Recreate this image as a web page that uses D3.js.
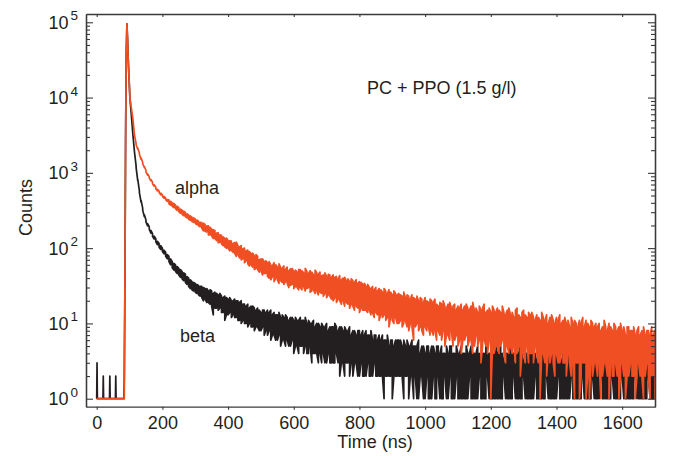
<!DOCTYPE html>
<html>
<head>
<meta charset="utf-8">
<script src="https://cdn.jsdelivr.net/npm/d3@7"></script>
<style>
  body { margin: 0; background: #fff; }
  text { font-family: "Liberation Sans", Arial, sans-serif; fill: #231f20; }
</style>
</head>
<body>
<svg id="chart" width="673" height="456"></svg>
<script>
// Head of both decays: pre-trigger baseline, rise and peak (time in ns, counts)
const headTime  = [0, 1, 2, 19, 20, 21, 39, 40, 41, 57, 58, 59, 83, 84, 86, 88, 90, 92, 94, 96, 98, 101, 105, 110, 115];
const alphaHead = [1, 1, 1, 1, 1, 1, 1, 1, 1, 1, 1, 1, 1, 1, 40, 3000, 40000, 95000, 60000, 32000, 20000, 10000, 7500, 5300, 3200];
const betaHead  = [1, 3, 1, 1, 2, 1, 1, 2, 1, 1, 2, 1, 1, 2, 40, 3000, 40000, 95000, 60000, 32000, 20000, 10000, 6200, 3300, 1900];

// Tail: highest and lowest count in each 5 ns bin from 120 ns (one line = 100 ns)
const tailStart = 120, tailStep = 5;
const alphaHigh = [
  2450, 2140, 1840, 1580, 1380, 1220, 1075, 970, 890, 815, 750, 695, 645, 605, 572, 540, 512, 488, 462, 442,
  435, 418, 400, 392, 372, 360, 345, 330, 318, 310, 298, 285, 276, 268, 258, 252, 244, 236, 228, 220,
  218, 214, 206, 196, 198, 190, 178, 176, 170, 158, 160, 150, 148, 141, 134, 136, 126, 125, 124, 115,
  118, 120, 108, 104, 108, 98, 100, 92, 94, 90, 84, 86, 78, 82, 78, 70, 72, 72, 66, 68,
  64, 66, 60, 58, 64, 60, 56, 62, 55, 54, 58, 52, 56, 50, 53, 54, 49, 51, 48, 52,
  52, 50, 47, 54, 49, 46, 50, 48, 44, 51, 47, 45, 48, 43, 44, 47, 42, 45, 44, 41,
  44, 41, 42, 39, 43, 38, 40, 41, 37, 39, 36, 39, 37, 35, 38, 34, 36, 35, 33, 34,
  31, 33, 30, 29, 31, 28, 30, 27, 29, 28, 26, 29, 27, 25, 28, 26, 24, 27, 25, 24,
  25, 24, 23, 26, 22, 24, 23, 21, 24, 22, 21, 23, 20, 22, 21, 19, 22, 20, 19, 21,
  20, 19, 21, 18, 17, 19, 18, 20, 17, 16, 18, 19, 16, 17, 18, 15, 17, 16, 18, 15,
  17, 18, 16, 15, 17, 19, 15, 16, 14, 17, 15, 16, 18, 14, 15, 16, 14, 17, 15, 14,
  16, 15, 14, 17, 14, 13, 15, 16, 13, 14, 12, 15, 16, 13, 12, 14, 15, 13, 12, 14,
  13, 14, 12, 11, 13, 12, 11, 14, 12, 11, 13, 10, 12, 13, 11, 10, 12, 11, 13, 10,
  11, 12, 10, 11, 9, 12, 10, 11, 10, 9, 11, 10, 12, 9, 11, 10, 9, 11, 10, 9,
  10, 9, 10, 8, 9, 11, 9, 8, 10, 9, 8, 10, 9, 8, 9, 10, 8, 9, 7, 9,
  9, 8, 8, 9, 7, 8, 9, 7, 8, 9, 7, 8, 8, 7, 9, 7, 8
];
const alphaLow = [
  2360, 2060, 1770, 1520, 1320, 1180, 1030, 930, 850, 785, 715, 665, 615, 575, 548, 512, 488, 462, 440, 418,
  388, 372, 360, 345, 335, 318, 305, 292, 282, 270, 262, 252, 242, 234, 226, 220, 214, 205, 198, 192,
  184, 170, 168, 164, 150, 150, 146, 134, 134, 126, 118, 120, 114, 108, 104, 100, 100, 92, 94, 88,
  86, 78, 82, 74, 70, 72, 64, 68, 62, 58, 60, 56, 52, 54, 52, 48, 50, 44, 46, 46,
  42, 40, 38, 42, 36, 40, 38, 34, 37, 35, 33, 36, 34, 30, 32, 33, 29, 31, 30, 28,
  30, 28, 31, 27, 29, 30, 26, 27, 28, 25, 27, 24, 26, 25, 23, 25, 22, 24, 23, 21,
  20, 22, 19, 21, 20, 18, 20, 17, 19, 18, 16, 18, 17, 15, 17, 16, 14, 16, 15, 15,
  15, 14, 15, 13, 14, 12, 14, 13, 11, 13, 12, 13, 11, 12, 9, 12, 11, 10, 12, 10,
  10, 11, 9, 10, 11, 9, 8, 10, 9, 6, 9, 10, 8, 9, 8, 7, 9, 8, 9, 7,
  8, 7, 8, 6, 8, 7, 6, 8, 5, 7, 7, 6, 8, 5, 6, 7, 5, 6, 4, 6,
  6, 7, 5, 6, 6, 4, 5, 7, 5, 6, 3, 5, 6, 5, 4, 6, 1, 5, 4, 5,
  5, 4, 5, 6, 4, 3, 5, 4, 5, 4, 5, 3, 4, 5, 2, 4, 4, 3, 5, 3,
  4, 4, 3, 5, 4, 3, 1, 4, 4, 3, 2, 4, 3, 4, 3, 2, 4, 3, 3, 4,
  3, 3, 2, 4, 3, 2, 3, 1, 3, 3, 1, 2, 3, 3, 1, 2, 1, 3, 2, 3,
  3, 2, 3, 1, 2, 3, 3, 2, 1, 3, 2, 2, 3, 2, 1, 2, 3, 2, 1, 2,
  2, 3, 2, 2, 1, 2, 3, 2, 2, 1, 2, 3, 2, 1, 2, 2, 1
];
const betaHigh = [
  1230, 820, 575, 432, 340, 278, 237, 212, 192, 172, 156, 144, 133, 123, 115, 108, 100, 94, 88, 82,
  78, 72, 66, 63, 60, 57, 54, 52, 49, 47, 45, 42, 40, 38, 36, 35, 34, 33, 32, 31,
  31, 30, 29, 29, 27, 28, 27, 25, 26, 25, 24, 25, 23, 22, 23, 22, 21, 22, 20, 20,
  21, 20, 20, 19, 20, 18, 18, 17, 18, 16, 17, 17, 16, 15, 16, 15, 14, 15, 15, 14,
  15, 14, 15, 13, 14, 13, 13, 14, 12, 13, 12, 13, 12, 11, 12, 12, 11, 12, 11, 11,
  12, 11, 11, 12, 10, 11, 10, 10, 11, 9, 10, 10, 9, 10, 9, 9, 10, 8, 9, 9,
  9, 10, 9, 8, 9, 9, 8, 9, 8, 8, 9, 7, 8, 8, 7, 8, 8, 7, 8, 7,
  8, 7, 7, 8, 6, 7, 7, 6, 7, 6, 7, 6, 6, 7, 5, 6, 6, 5, 6, 6,
  6, 6, 5, 6, 5, 6, 5, 5, 6, 5, 5, 5, 6, 4, 5, 5, 4, 5, 5, 4,
  5, 5, 4, 5, 5, 4, 5, 4, 4, 5, 4, 5, 5, 4, 4, 5, 4, 4, 5, 4,
  4, 5, 4, 4, 5, 4, 4, 4, 5, 4, 3, 4, 4, 5, 4, 4, 4, 3, 4, 5,
  4, 4, 5, 4, 3, 4, 4, 4, 5, 4, 4, 3, 4, 4, 5, 4, 3, 4, 4, 4,
  4, 5, 4, 4, 3, 4, 4, 5, 4, 4, 3, 4, 4, 4, 5, 3, 4, 4, 4, 3,
  4, 4, 3, 4, 4, 5, 4, 3, 4, 4, 4, 3, 4, 5, 4, 4, 3, 4, 4, 3,
  4, 3, 4, 4, 4, 3, 4, 5, 4, 3, 4, 4, 3, 4, 4, 4, 3, 4, 4, 4,
  4, 4, 3, 4, 4, 3, 4, 4, 4, 3, 4, 4, 3, 4, 4, 3, 4
];
const betaLow = [
  1170, 780, 545, 408, 320, 262, 223, 198, 178, 158, 144, 132, 121, 111, 103, 96, 90, 84, 78, 72,
  66, 60, 55, 51, 49, 46, 44, 41, 39, 37, 35, 33, 31, 29, 28, 27, 26, 25, 24, 23,
  22, 20, 21, 19, 19, 18, 17, 13, 16, 16, 15, 16, 14, 14, 11, 13, 13, 14, 12, 13,
  12, 12, 11, 11, 10, 11, 10, 10, 9, 10, 9, 9, 8, 9, 9, 8, 8, 9, 7, 8,
  7, 8, 6, 7, 7, 6, 6, 7, 5, 6, 6, 5, 6, 5, 5, 6, 4, 5, 5, 4,
  5, 5, 4, 5, 4, 4, 5, 3, 4, 4, 4, 3, 4, 3, 4, 3, 3, 4, 3, 3,
  3, 3, 4, 3, 2, 3, 3, 2, 3, 3, 2, 3, 2, 3, 3, 2, 2, 3, 2, 2,
  2, 3, 2, 2, 2, 3, 2, 2, 2, 2, 2, 1, 2, 2, 2, 2, 1, 2, 2, 2,
  2, 2, 2, 1, 2, 2, 1, 2, 2, 1, 2, 1, 1, 2, 2, 1, 1, 2, 1, 1,
  1, 2, 1, 1, 2, 1, 1, 1, 2, 1, 1, 2, 1, 1, 1, 2, 1, 1, 1, 1,
  1, 1, 1, 2, 1, 1, 1, 1, 1, 2, 1, 1, 1, 1, 2, 1, 1, 1, 1, 1,
  1, 1, 1, 1, 2, 1, 1, 1, 1, 1, 2, 1, 1, 1, 1, 1, 2, 1, 1, 1,
  1, 1, 1, 2, 1, 1, 1, 1, 1, 1, 2, 1, 1, 1, 1, 1, 1, 2, 1, 1,
  1, 1, 1, 1, 1, 2, 1, 1, 1, 1, 1, 1, 2, 1, 1, 1, 1, 1, 2, 1,
  1, 1, 1, 2, 1, 1, 1, 1, 1, 1, 2, 1, 1, 1, 1, 1, 2, 1, 1, 1,
  1, 1, 1, 1, 2, 1, 1, 1, 1, 1, 1, 1, 2, 1, 1, 1, 1
];

const xTicks = [0, 200, 400, 600, 800, 1000, 1200, 1400, 1600];
const yExponents = [0, 1, 2, 3, 4, 5];

const alphaColor = "#f04e23";
const betaColor = "#231f20";
const axisColor = "#3a3a3a";

function main() {
  const svg = d3.select("#chart");

  const x = d3.scaleLinear().domain([-32.6, 1700]).range([86, 655]);
  const y = d3.scaleLog().domain([0.783, 128800]).range([406.7, 14]);
  const [left, right] = x.range();
  const [bottom, top] = y.range();

  const majors = yExponents.map((e) => Math.pow(10, e));
  const minors = [];
  for (const e of yExponents) {
    for (let k = 2; k <= 9; k++) {
      const v = k * Math.pow(10, e);
      if (v < y.domain()[1]) minors.push(v);
    }
  }

  const styleAxis = (g) => g
    .call((g) => g.selectAll("path.domain").attr("stroke", axisColor).attr("stroke-width", 1.3))
    .call((g) => g.selectAll(".tick line").attr("stroke", axisColor).attr("stroke-width", 1.1));

  const line = d3.line()
    .x((d) => x(d[0]))
    .y((d) => y(d[1]));

  // head as single readings; tail as a stroke from high to low in every bin,
  // direction flipped each bin so neighbours join along the envelope
  const points = (head, high, low) => {
    const pts = headTime.map((t, i) => [t, head[i]]);
    high.forEach((h, i) => {
      const t = tailStart + i * tailStep;
      if (i % 2 === 0) pts.push([t, h], [t, low[i]]);
      else pts.push([t, low[i]], [t, h]);
    });
    return pts;
  };

  svg.append("path")
    .datum(points(betaHead, betaHigh, betaLow))
    .attr("fill", "none")
    .attr("stroke", betaColor)
    .attr("stroke-width", 1.7)
    .attr("stroke-linejoin", "round")
    .attr("d", line);

  svg.append("path")
    .datum(points(alphaHead, alphaHigh, alphaLow))
    .attr("fill", "none")
    .attr("stroke", alphaColor)
    .attr("stroke-width", 1.7)
    .attr("stroke-linejoin", "round")
    .attr("d", line);

  // bottom axis, ticks outward
  svg.append("g")
    .attr("transform", `translate(0,${bottom})`)
    .call(d3.axisBottom(x).tickValues(xTicks).tickSize(3).tickSizeOuter(0)
      .tickPadding(7).tickFormat(d3.format("d")))
    .attr("font-size", 18)
    .call(styleAxis);

  // top axis, ticks inward
  svg.append("g")
    .attr("transform", `translate(0,${top})`)
    .call(d3.axisTop(x).tickValues(xTicks).tickSize(-3).tickSizeOuter(0).tickFormat(""))
    .call(styleAxis);

  // left and right axes, majors and minors pointing inward
  const sides = [
    {axis: d3.axisLeft, pos: left},
    {axis: d3.axisRight, pos: right},
  ];
  for (const s of sides) {
    svg.append("g")
      .attr("transform", `translate(${s.pos},0)`)
      .call(s.axis(y).tickValues(minors).tickSize(-4).tickSizeOuter(0).tickFormat(""))
      .call(styleAxis);
    svg.append("g")
      .attr("transform", `translate(${s.pos},0)`)
      .call(s.axis(y).tickValues(majors).tickSize(-7).tickSizeOuter(0).tickFormat(""))
      .call(styleAxis);
  }

  // y labels as 10 with superscript exponent
  const ylab = svg.append("g").selectAll("text")
    .data(yExponents)
    .join("text")
    .attr("x", 78)
    .attr("y", (e) => y(Math.pow(10, e)) + 6.6)
    .attr("text-anchor", "end")
    .attr("font-size", 18);
  ylab.append("tspan").text("10");
  ylab.append("tspan")
    .attr("dx", 2)
    .attr("dy", -8.6)
    .attr("font-size", 13.5)
    .text((e) => e);

  svg.append("text").attr("x", 367).attr("y", 94).attr("font-size", 18)
    .text("PC + PPO (1.5 g/l)");
  svg.append("text").attr("x", 175).attr("y", 194).attr("font-size", 18).text("alpha");
  svg.append("text").attr("x", 180).attr("y", 342).attr("font-size", 18).text("beta");

  svg.append("text")
    .attr("transform", "translate(32,207.5) rotate(-90)")
    .attr("text-anchor", "middle")
    .attr("font-size", 18)
    .text("Counts");
  svg.append("text")
    .attr("x", 375).attr("y", 448)
    .attr("text-anchor", "middle")
    .attr("font-size", 18)
    .text("Time (ns)");
}

main();
</script>
</body>
</html>
